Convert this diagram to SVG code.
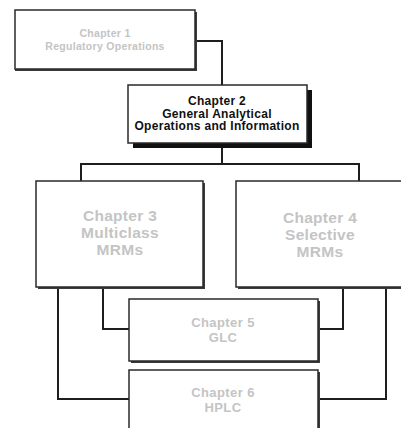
<svg xmlns="http://www.w3.org/2000/svg" width="401" height="428" viewBox="0 0 401 428">
<style>
.box{fill:#fff;stroke:#2a2a2a;stroke-width:1.5}
.sh{fill:#3a3a3a}
.shb{fill:#111}
.conn{fill:none;stroke:#1e1e1e;stroke-width:2}
text{font-family:"Liberation Sans",Arial,sans-serif;font-weight:bold;text-anchor:middle}
.g{fill:#c4c4c4}
.k{fill:#111}
.s1{font-size:10.5px;letter-spacing:0.3px}
.s2{font-size:12px;letter-spacing:0.3px}
.s3{font-size:15.5px;letter-spacing:0.3px}
.s5{font-size:13px;letter-spacing:0.4px}
</style>
<rect width="401" height="428" fill="#fff"/>
<g id="connectors">
<polyline class="conn" points="195,41 222,41 222,85"/>
<line class="conn" x1="222" y1="148" x2="222" y2="164"/>
<polyline class="conn" points="81,181 81,164 359,164 359,181"/>
<polyline class="conn" points="103,288 103,329 129,329"/>
<polyline class="conn" points="58,288 58,399 129,399"/>
<polyline class="conn" points="343,288 343,329 318,329"/>
<polyline class="conn" points="386,288 386,399 318,399"/>
</g>
<g id="ch1">
<rect class="sh" x="15" y="12" width="182" height="59"/>
<rect class="box" x="15" y="10" width="180" height="59"/>
<text class="g s1" x="105" y="37">Chapter 1</text>
<text class="g s1" x="105" y="50">Regulatory Operations</text>
</g>
<g id="ch2">
<rect class="shb" x="133" y="90" width="179" height="58"/>
<rect class="box" x="128" y="85" width="179" height="58"/>
<text class="k s2" x="217" y="105">Chapter 2</text>
<text class="k s2" x="217" y="117.5">General  Analytical</text>
<text class="k s2" x="217" y="130">Operations and Information</text>
</g>
<g id="ch3">
<rect class="sh" x="38" y="183" width="167" height="106"/>
<rect class="box" x="36" y="181" width="167" height="106"/>
<text class="g s3" x="120" y="221">Chapter 3</text>
<text class="g s3" x="120" y="238">Multiclass</text>
<text class="g s3" x="120" y="255">MRMs</text>
</g>
<g id="ch4">
<rect class="sh" x="238" y="183" width="170" height="106"/>
<rect class="box" x="236" y="181" width="170" height="106"/>
<text class="g s3" x="320" y="223">Chapter 4</text>
<text class="g s3" x="320" y="240">Selective</text>
<text class="g s3" x="320" y="257">MRMs</text>
</g>
<g id="ch5">
<rect class="sh" x="131" y="301" width="189" height="62"/>
<rect class="box" x="129" y="299" width="189" height="62"/>
<text class="g s5" x="223" y="327">Chapter 5</text>
<text class="g s5" x="223" y="342">GLC</text>
</g>
<g id="ch6">
<rect class="sh" x="131" y="372" width="189" height="70"/>
<rect class="box" x="129" y="370" width="189" height="70"/>
<text class="g s5" x="223" y="397">Chapter 6</text>
<text class="g s5" x="223" y="412">HPLC</text>
</g>
</svg>
